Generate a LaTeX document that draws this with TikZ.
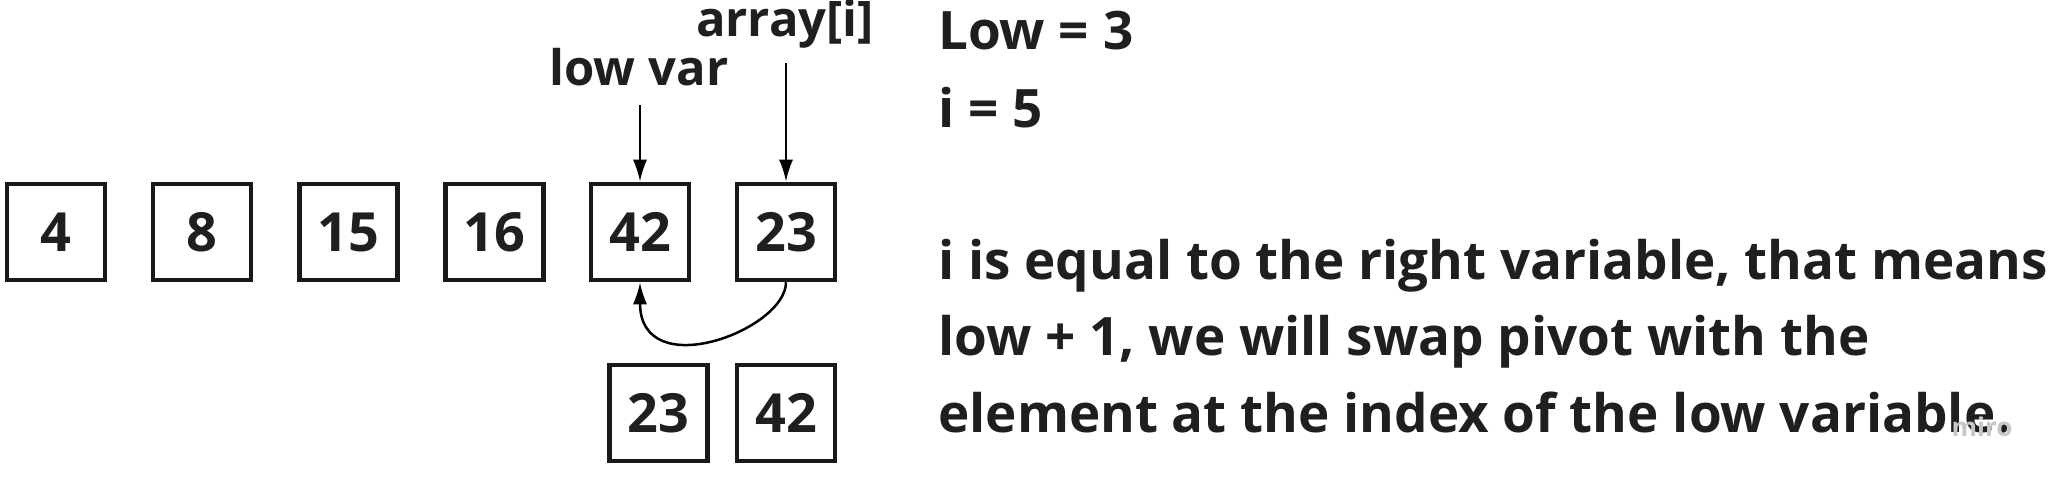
\documentclass[tikz,border=0pt]{standalone}
\usepackage{fontspec}
\setmainfont{Open Sans}
\usetikzlibrary{arrows.meta}
\begin{document}
\begin{tikzpicture}[x=1pt,y=1pt,
  cell/.style={draw=black!90, line width=4.5pt, minimum width=98pt, minimum height=96pt, inner sep=0pt,
    font=\bfseries\fontsize{54}{60}\selectfont, text=black!88},
  lbl/.style={font=\bfseries\fontsize{49}{60}\selectfont, text=black!88, inner sep=0pt},
  txt/.style={font=\bfseries\fontsize{53}{76.5}\selectfont, text=black!88, inner sep=0pt, align=left},
  ptr/.style={line width=2.5pt, -{Latex[length=22pt,width=14pt]}}]
\useasboundingbox (0,0) rectangle (2065,-484);
\node[cell] (c4)  at (56,-232) {4};
\node[cell] (c8)  at (202,-232) {8};
\node[cell] (c15) at (348.5,-232) {15};
\node[cell] (c16) at (494.5,-232) {16};
\node[cell] (c42) at (640,-232) {42};
\node[cell] (c23) at (786,-232) {23};
\node[cell] (d23) at (658.5,-413) {23};
\node[cell] (d42) at (786,-413) {42};
\node[lbl, anchor=base] (lowvar) at (639,-86) {low var};
\node[lbl, anchor=base] (arri) at (785,-37) {array[i]};
\coordinate (s1) at (640,-105);
\coordinate (s2) at (786,-63);
\draw[ptr] (s1) -- (c42.north);
\draw[ptr] (s2) -- (c23.north);
\draw[ptr] (c23.south) .. controls (786,-330) and (640,-385) .. (c42.south);
\node[txt, anchor=base west] (low) at (938,-50) {Low = 3};
\node[txt, anchor=base west] (ii) at (938,-128) {i = 5};
\node[txt, anchor=base west] (para) at (938,-432) {i is equal to the right variable, that means\\low + 1, we will swap pivot with the\\element at the index of the low variable.};
\node[font=\bfseries\fontsize{26}{28}\selectfont, text=black!22, inner sep=0pt] (miro) at (1982,-427) {miro};
\end{tikzpicture}
\end{document}
